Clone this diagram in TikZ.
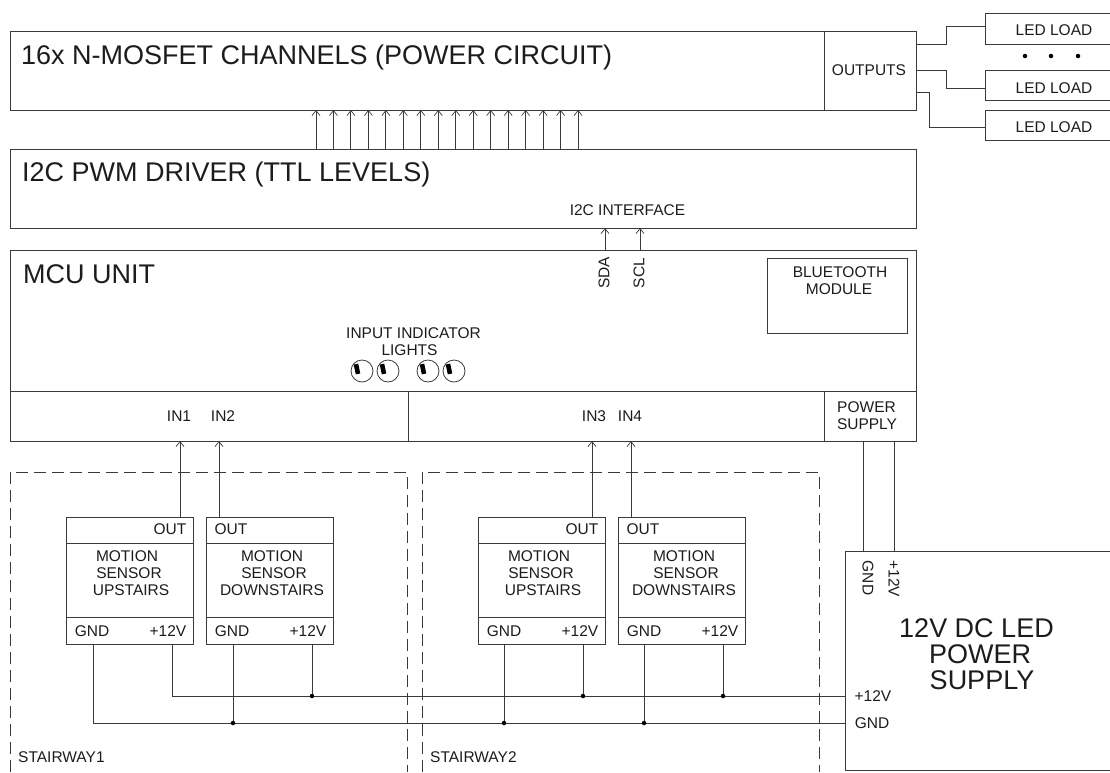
\documentclass[tikz,border=0pt]{standalone}
\usepackage{fontspec}
\setmainfont{Liberation Sans}
\usetikzlibrary{arrows.meta}
\definecolor{ln}{HTML}{3A3A3A}
\definecolor{tx}{HTML}{1C1C1C}
\tikzset{
  box/.style={draw=ln,line width=0.9pt,rectangle,anchor=north west,inner sep=0pt,outer sep=0pt},
  wire/.style={draw=ln,line width=0.9pt},
  arr/.style={wire,-{Straight Barb[length=5pt,width=8pt,line width=0.7pt]}},
  dashline/.style={draw=ln,line width=0.8pt,dash pattern=on 12pt off 6pt},
  small/.style={text=tx,font=\fontsize{15.5}{17}\selectfont,inner sep=0pt,align=center},
  big/.style={text=tx,font=\fontsize{27}{26}\selectfont,inner sep=0pt,align=center},
  jn/.style={circle,fill=black,inner sep=0pt,minimum size=4.5pt},
  lamp/.style={circle,draw=ln,line width=0.8pt,inner sep=0pt,minimum size=22pt},
}
\begin{document}
\begin{tikzpicture}[x=1pt,y=-1pt]
\useasboundingbox (0,0) rectangle (1110,772);
% power circuit
\node[box,minimum width=906pt,minimum height=79pt] (top) at (10,31) {};
\node[box,minimum width=92pt,minimum height=79pt] (outs) at (824,31) {};
\node[big,anchor=west] (t1) at (21,58) {16x N-MOSFET CHANNELS (POWER CIRCUIT)};
\node[small] (outl) at (869,70) {OUTPUTS};
% LED loads
\node[box,minimum width=130pt,minimum height=31pt] (l1) at (985,13) {};
\node[box,minimum width=130pt,minimum height=30pt] (l2) at (985,70) {};
\node[box,minimum width=130pt,minimum height=30pt] (l3) at (985,110) {};
\node[small] (l1t) at (1054,30) {LED LOAD};
\node[small] (l2t) at (1054,88) {LED LOAD};
\node[small] (l3t) at (1054,127) {LED LOAD};
\node[jn,minimum size=4.5pt] (d1) at (1025,56) {};
\node[jn,minimum size=4.5pt] (d2) at (1051,56) {};
\node[jn,minimum size=4.5pt] (d3) at (1078,56) {};
\coordinate (o1) at (916,44);
\coordinate (o2) at (916,70);
\coordinate (o3) at (916,92);
\draw[wire] (o1) -- (946,44) -- (946,26) -- (l1.west |- 0,26);
\draw[wire] (o2) -- (946,70) -- (946,88) -- (l2.west |- 0,88);
\draw[wire] (o3) -- (929,92) -- (929,127) -- (l3.west |- 0,127);
% driver
\node[box,minimum width=906pt,minimum height=79pt] (drv) at (10,149) {};
\node[big,anchor=west] (t2) at (22,175) {I2C PWM DRIVER (TTL LEVELS)};
\node[small] (i2c) at (627.5,210.5) {I2C INTERFACE};
\foreach \i in {0,...,15}{
  \draw[arr] (drv.north -| {316+\i*17.47},0) -- (top.south -| {316+\i*17.47},0);
}
% MCU
\node[box,minimum width=906pt,minimum height=190.5pt] (mcu) at (10,250.5) {};
\node[big,anchor=west] (t3) at (23,274) {MCU UNIT};
\node[box,minimum width=398pt,minimum height=50pt] (inA) at (10,391) {};
\node[box,minimum width=416pt,minimum height=50pt] (inB) at (408,391) {};
\node[box,minimum width=92pt,minimum height=50pt] (ps) at (824,391) {};
\node[box,minimum width=140pt,minimum height=75pt] (bt) at (767,258) {};
\node[small] (btt) at (840,272) {BLUETOOTH};
\node[small] (btu) at (839,289) {MODULE};
\node[small] (sda) at (604,273) [rotate=90] {SDA};
\node[small] (scl) at (639,273) [rotate=90] {SCL};
\draw[arr] (mcu.north -| 605,0) -- (drv.south -| 605,0);
\draw[arr] (mcu.north -| 640,0) -- (drv.south -| 640,0);
\node[small] (ind) at (413.5,333) {INPUT INDICATOR};
\node[small] (ind2) at (409.5,350.5) {LIGHTS};
\foreach \n/\x in {a/362,b/388,c/428,d/454}{
  \node[lamp] (lamp\n) at (\x,371) {};
  \fill[black,rotate around={12:(\x-5,369)}] (\x-7.3,364) rectangle (\x-2.7,374);
}
\node[small] (in1) at (179,416) {IN1};
\node[small] (in2) at (223,416) {IN2};
\node[small] (in3) at (594,416) {IN3};
\node[small] (in4) at (630,416) {IN4};
\node[small] (pst) at (866.5,407) {POWER};
\node[small] (pst2) at (867,424) {SUPPLY};
% stairways
\draw[dashline] (10,772) -- (10,472) -- (407,472) -- (407,772);
\draw[dashline] (422,772) -- (422,472) -- (819,472) -- (819,772);
\node[small,anchor=west] (st1) at (18,757.5) {STAIRWAY1};
\node[small,anchor=west] (st2) at (430,757.5) {STAIRWAY2};
% sensors
\foreach \n/\x/\w/\ox/\ax/\bx in {a/66/UPSTAIRS/104/61/65,b/206/DOWNSTAIRS/25/66/66,c/478/UPSTAIRS/104/61/65,d/618/DOWNSTAIRS/25/66/66}{
  \node[box,minimum width=127pt,minimum height=127pt] (s\n) at (\x,517) {};
  \node[box,minimum width=127pt,minimum height=26pt] (s\n o) at (\x,517) {};
  \node[box,minimum width=127pt,minimum height=27pt] (s\n p) at (\x,617) {};
  \node[small] (s\n ot) at (\x+\ox,529) {OUT};
  \node[small] (s\n a) at (\x+\ax,556) {MOTION};
  \node[small] (s\n b) at (\x+\ax+2,573) {SENSOR};
  \node[small] (s\n c) at (\x+\bx,590) {\w};
  \node[small] (s\n g) at (\x+26,631) {GND};
  \node[small] (s\n v) at (\x+102,631) {+12V};
}
\draw[arr] (sa.north -| 180,0) -- (inA.south -| 180,0);
\draw[arr] (sb.north -| 219,0) -- (inA.south -| 219,0);
\draw[arr] (sc.north -| 592,0) -- (inB.south -| 592,0);
\draw[arr] (sd.north -| 631,0) -- (inB.south -| 631,0);
% PSU
\node[box,minimum width=270pt,minimum height=219pt] (psu) at (845,551) {};
\node[big] (psut) at (976.5,628) {12V DC LED};
\node[big] (psuu) at (980,654) {POWER};
\node[big] (psuv) at (982,680) {SUPPLY};
\node[small,rotate=-90] (pg) at (868,578) {GND};
\node[small,rotate=-90] (pv) at (894,579) {+12V};
\node[small] (p12) at (873,696) {+12V};
\node[small] (pgn) at (872,723) {GND};
\draw[wire] (ps.south -| 863,0) -- (psu.north -| 863,0);
\draw[wire] (ps.south -| 894,0) -- (psu.north -| 894,0);
% supply rails
\draw[wire] (sa.south -| 172,0) -- (172,696) -- (psu.west |- 0,696);
\draw[wire] (sa.south -| 93,0) -- (93,723) -- (psu.west |- 0,723);
\foreach \n/\g/\v in {b/233/312,c/504/583,d/644/723}{
  \node[jn] (jv\n) at (\v,696) {};
  \node[jn] (jg\n) at (\g,723) {};
  \draw[wire] (s\n.south -| \v,0) -- (jv\n);
  \draw[wire] (s\n.south -| \g,0) -- (jg\n);
}
\end{tikzpicture}
\end{document}
